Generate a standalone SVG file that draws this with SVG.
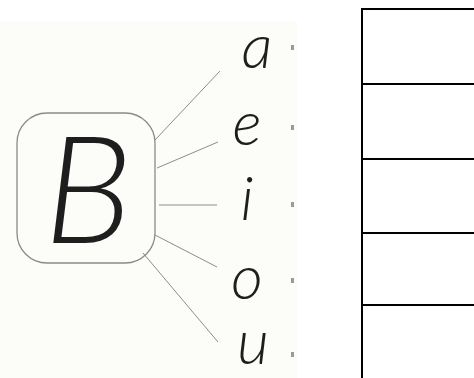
<svg xmlns="http://www.w3.org/2000/svg" width="474" height="378" viewBox="0 0 474 378">
<style>
.bg{fill:#fcfcf9}
.box{fill:none;stroke:#8a8a8a;stroke-width:1.3}
.big{font-family:Lato,"Liberation Sans",sans-serif;font-weight:300;font-style:italic;font-size:150px;fill:#1e1e1e;text-anchor:middle}
.vow{font-family:Lato,"Liberation Sans",sans-serif;font-weight:300;font-style:italic;font-size:62px;fill:#1e1e1e;text-anchor:middle}
.con line{stroke:#8c8c8c;stroke-width:1}
.mk{fill:#9a9a9a}
.tbl line{stroke:#000;stroke-width:2}
</style>
<rect width="474" height="378" fill="#fff"/>
<rect class="bg" x="0" y="22" width="297" height="356"/>
<g id="nodeB">
<rect class="box" x="17" y="113" width="138" height="150" rx="30" ry="30"/>
<text class="big" x="88" y="243">B</text>
</g>
<g id="connectors" class="con">
<line x1="155" y1="140" x2="220" y2="71"/>
<line x1="157" y1="168" x2="218" y2="142"/>
<line x1="159" y1="205" x2="217" y2="205"/>
<line x1="155" y1="235" x2="217" y2="267"/>
<line x1="143" y1="253" x2="218" y2="342"/>
</g>
<g id="vowel-a"><text class="vow" x="257" y="68">a</text><rect class="mk" x="291" y="45" width="3" height="5"/></g>
<g id="vowel-e"><text class="vow" x="247" y="145">e</text><rect class="mk" x="291" y="125" width="3" height="5"/></g>
<g id="vowel-i"><text class="vow" x="247" y="220">i</text><rect class="mk" x="291" y="202" width="3" height="5"/></g>
<g id="vowel-o"><text class="vow" x="247" y="299">o</text><rect class="mk" x="291" y="278" width="3" height="5"/></g>
<g id="vowel-u"><text class="vow" x="253" y="364">u</text><rect class="mk" x="291" y="352" width="3" height="5"/></g>
<g id="table" class="tbl">
<line x1="362" y1="8" x2="362" y2="378"/>
<line x1="361" y1="9" x2="474" y2="9"/>
<line x1="361" y1="84" x2="474" y2="84"/>
<line x1="361" y1="159" x2="474" y2="159"/>
<line x1="361" y1="233" x2="474" y2="233"/>
<line x1="361" y1="305" x2="474" y2="305"/>
</g>
</svg>
